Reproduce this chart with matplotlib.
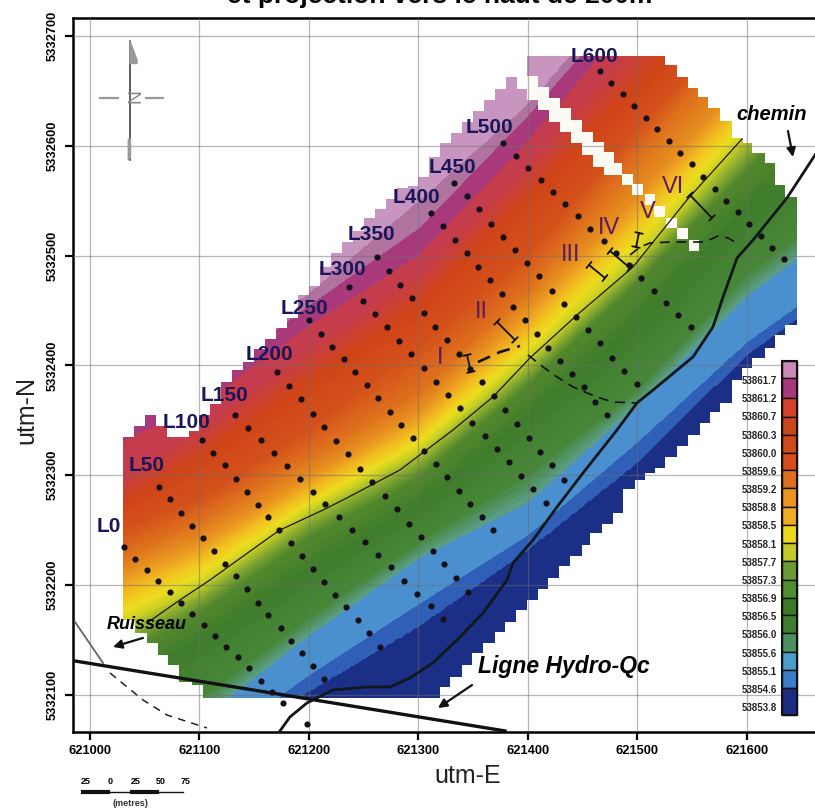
import matplotlib
matplotlib.use('Agg')
import matplotlib.pyplot as plt
from matplotlib.colors import to_rgb
from matplotlib.patches import Polygon
import numpy as np

E0 = 621000
N0 = 5332000

# isolines of the field: north offset read at each easting offset
iso_stations = [0, 30, 100, 200, 300, 400, 500, 600, 650]
iso_values = [53854.6, 53855.1, 53855.6, 53856.0, 53856.5, 53856.9, 53857.3, 53857.7, 53858.1, 53858.5,
              53858.8, 53859.2, 53859.6, 53860.0, 53860.3, 53860.7, 53861.2, 53861.7, 53862.2]
iso_north = [
    [-23.1, -0.3, 31.6, 102.6, 161.8, 231.9, 311.2, 409.5, 445.0],
    [-9.4, 13.4, 45.2, 118.1, 182.7, 245.6, 330.3, 421.3, 456.9],
    [27.0, 49.8, 77.1, 154.5, 224.6, 275.6, 364.0, 464.1, 500.6],
    [45.2, 68.0, 95.3, 170.0, 238.3, 300.2, 377.6, 482.4, 518.8],
    [81.7, 104.4, 145.4, 209.1, 268.3, 350.3, 432.3, 537.0, 578.0],
    [113.5, 136.3, 174.5, 242.8, 297.5, 382.2, 476.0, 578.0, 628.1],
    [127.2, 149.9, 186.4, 255.6, 309.3, 393.1, 486.9, 591.6, 641.7],
    [140.8, 163.6, 198.2, 267.4, 321.2, 405.0, 497.8, 609.9, 660.0],
    [151.8, 174.5, 209.1, 274.7, 329.4, 415.9, 512.4, 623.5, 676.3],
    [163.6, 186.4, 220.1, 282.0, 338.5, 427.7, 527.9, 637.2, 691.8],
    [177.3, 200.0, 230.1, 291.1, 348.5, 439.6, 541.6, 650.8, 705.5],
    [189.1, 211.9, 241.0, 300.2, 359.4, 453.2, 555.2, 664.5, 719.1],
    [204.6, 227.4, 259.2, 318.4, 377.6, 471.4, 591.6, 700.9, 755.6],
    [227.4, 250.1, 277.4, 341.2, 414.0, 500.6, 614.4, 723.7, 778.3],
    [250.1, 272.9, 313.9, 382.2, 450.5, 550.7, 650.8, 760.1, 814.8],
    [272.9, 295.7, 341.2, 414.0, 482.4, 582.5, 696.4, 805.7, 860.3],
    [313.9, 332.1, 364.0, 436.8, 500.6, 605.3, 723.7, 833.0, 887.6],
    [336.6, 354.9, 382.2, 455.0, 525.2, 628.1, 741.9, 851.2, 905.8],
    [350.3, 368.5, 395.8, 466.9, 550.7, 639.0, 755.6, 869.4, 924.0],
]

band_levels = [53853.0, 53854.6, 53855.1, 53855.6, 53856.0, 53856.5, 53856.9, 53857.3, 53857.7, 53858.1, 53858.5,
               53858.8, 53859.2, 53859.6, 53860.0, 53860.3, 53860.7, 53861.2, 53861.7, 53862.2, 53863.0]
band_colors = ['#1b2f86', '#2f5fb6', '#4a90cf', '#5a9c84', '#468636', '#3f7d2c', '#54892c', '#86a930', '#c9cf23',
               '#ecdc20', '#f1c41f', '#eea521', '#e58a1f', '#dd6c1c', '#d4501a', '#cf4318', '#c53c4c', '#a83a7c',
               '#b0739f', '#c795bf']

# stepped outline of the gridded area: easting where a step starts, and its north level
top_e = [30, 40, 50, 60, 70, 80, 90, 100, 110, 120, 130, 140, 150, 160, 170, 180, 190, 200, 210, 220, 230, 240,
         250, 260, 270, 280, 290, 300, 310, 320, 330, 340, 350, 360, 370, 380, 390, 399, 525, 536, 546, 555, 564,
         575, 586, 596, 605, 616, 626, 635, 646]
top_n = [335, 345, 355, 345, 335, 335, 340, 355, 365, 385, 396, 403, 415, 424, 434, 443, 464, 472, 490, 502, 512,
         522, 534, 542, 552, 562, 563, 572, 590, 603, 612, 622, 632, 642, 652, 663, 652, 682, 674, 663, 653, 644,
         634, 623, 607, 603, 593, 584, 564, 553, 553]
bottom_e = [30, 41, 52, 62, 71, 81, 93, 103, 320, 329, 340, 349, 359, 370, 379, 389, 399, 409, 418, 428, 438, 449,
            457, 468, 478, 487, 498, 507, 516, 525, 536, 546, 557, 566, 575, 586, 595, 605, 616, 626, 635, 646]
bottom_n = [168, 156, 147, 136, 127, 112, 109, 97, 107, 116, 127, 138, 147, 157, 166, 177, 186, 196, 206, 217, 226,
            236, 247, 256, 266, 287, 296, 302, 307, 317, 327, 337, 348, 358, 366, 387, 398, 407, 416, 428, 437, 437]

# blank cells between L500 and L600
gap_e = [399, 409, 419, 429, 439, 449, 459, 469, 479, 486.3, 495.4, 506.4, 515.5, 526.4, 536.5, 546.6]
gap_w = [10, 10, 10, 10, 10, 10, 10, 10, 7.3, 10, 10, 10, 10, 10, 10, 10]
gap_top = [663.6, 653.6, 643.6, 634.4, 623.5, 612.6, 603.5, 594.4, 584.4, 573.9, 564.8, 555.7, 544.8, 534.7, 524.7, 513.8]
gap_bottom = [641.7, 632.6, 621.7, 612.6, 602.6, 591.6, 580.7, 573.4, 573.4, 563.9, 554.8, 545.7, 534.8, 524.7, 514.7, 503.8]

# survey stations per line
stations_e = [
    [31, 41, 52, 62, 73, 83, 93, 104, 114, 124, 135, 145, 156, 166, 176, 198],
    [63, 73, 83, 93, 103, 113, 123, 133, 143, 153, 163, 174, 184, 194, 204, 214],
    [102, 112, 123, 133, 143, 153, 163, 173, 184, 194, 204, 214, 224, 234, 245, 255, 265],
    [132, 144, 156, 168, 180, 192, 204, 215, 227, 239, 251, 263, 275, 287, 299, 311, 322],
    [171, 182, 193, 204, 214, 225, 236, 247, 258, 269, 280, 291, 302, 313, 323, 334, 345],
    [200, 211, 221, 232, 242, 253, 263, 274, 284, 295, 305, 316, 326, 337, 347, 358, 368],
    [237, 249, 260, 271, 282, 293, 305, 316, 327, 338, 349, 361, 372, 383, 394, 405, 416],
    [262, 273, 283, 294, 305, 315, 326, 337, 347, 358, 369, 379, 390, 401, 411, 422, 433],
    [311, 322, 333, 344, 354, 365, 376, 386, 397, 408, 418, 429, 440, 451, 461, 472],
    [332, 344, 355, 366, 377, 388, 399, 410, 422, 433, 444, 455, 466, 477, 488, 500],
    [377, 389, 400, 412, 423, 434, 446, 457, 469, 480, 492, 503, 515, 526, 537, 549],
    [466, 476, 487, 497, 508, 518, 529, 539, 550, 560, 571, 581, 592, 602, 613, 623, 634],
]
stations_n = [
    [235, 224, 214, 204, 194, 184, 174, 164, 154, 144, 134, 124, 113, 103, 93, 73],
    [289, 278, 266, 254, 243, 231, 219, 208, 196, 184, 173, 161, 149, 138, 126, 114],
    [332, 320, 309, 297, 285, 273, 262, 250, 238, 226, 215, 203, 191, 180, 168, 156, 144],
    [355, 343, 332, 320, 308, 297, 285, 274, 262, 250, 239, 227, 216, 204, 192, 181, 169],
    [394, 381, 369, 356, 344, 331, 319, 306, 294, 281, 269, 256, 244, 231, 219, 206, 194],
    [441, 429, 417, 406, 394, 382, 370, 358, 346, 334, 322, 310, 298, 286, 274, 262, 250],
    [471, 459, 447, 435, 422, 410, 398, 385, 373, 361, 348, 336, 324, 312, 299, 287, 275],
    [499, 486, 473, 461, 448, 435, 423, 410, 397, 385, 372, 359, 347, 334, 321, 309, 296],
    [539, 527, 514, 502, 490, 478, 465, 453, 441, 429, 416, 404, 392, 380, 367, 355],
    [566, 554, 542, 529, 517, 505, 493, 481, 468, 456, 444, 432, 420, 407, 395, 383],
    [603, 591, 580, 569, 558, 547, 536, 524, 513, 502, 491, 480, 468, 457, 446, 435],
    [668, 657, 647, 636, 625, 615, 604, 593, 583, 572, 561, 550, 540, 529, 518, 507, 497],
]
line_names = ['L0', 'L50', 'L100', 'L150', 'L200', 'L250', 'L300', 'L350', 'L400', 'L450', 'L500', 'L600']
line_label_e = [17.4, 52, 87.7, 123.3, 163.5, 195.4, 230.1, 256.6, 297.7, 330.6, 364.4, 460.3]
line_label_n = [252.9, 309.3, 347.6, 372.2, 409.5, 451.4, 486.9, 518.8, 552.5, 580.7, 617.1, 680.9]

# map features
creek_e = [52, 82.2, 109.6, 164.4, 173.5, 212.8, 231, 283.1, 331.5, 368, 401.8, 444.7, 495.9, 545.2, 595.4]
creek_n = [165.4, 186.4, 204.6, 243.8, 250.1, 268.3, 277.4, 304.8, 341.2, 371.3, 406.8, 445.9, 489.6, 550.7, 606.2]
road_e = [173.5, 182.6, 198.2, 221.9, 253, 274, 292.2, 313.2, 337.9, 358.9, 380.8, 386.3, 404.6, 426.5, 450.2,
          481.3, 499.5, 514.2, 550.7, 568.9, 578.1, 590.9, 605.5, 636.5, 662.1]
road_n = [67.1, 79.8, 92.6, 104.4, 107.1, 107.1, 115.3, 129, 152.7, 174.5, 204.6, 220.1, 241, 271.1, 302,
          341.2, 365.8, 377.6, 407.7, 435, 462.3, 497.8, 514.2, 552.5, 591.6]
hydro_e = [-13.7, 379]
hydro_n = [130.8, 67.1]
stream_e = [-13.7, 11.9]
stream_n = [166.4, 129]
stream_dash_e = [18.3, 48.4, 70.3, 106.8]
stream_dash_n = [119.9, 95.3, 81.6, 69.8]
fault1_e = [354.3, 374.4, 392.7]
fault1_n = [403.1, 412.2, 417.7]
fault2_e = [400, 413.7, 426.5, 441.1, 453.9, 465.8, 477.6, 499.5]
fault2_n = [409.5, 398.6, 389.5, 380.4, 374.9, 370.3, 366.7, 365.8]
fault3_e = [493.2, 502.3, 511.4, 529.7, 545.2, 561.6, 573.5, 582.6, 593.6]
fault3_n = [500.6, 507.8, 511.5, 512.4, 512.4, 512.4, 517.9, 516.1, 509.7]

section_names = ['I', 'II', 'III', 'IV', 'V', 'VI']
section_label_e = [319.6, 357, 439.3, 474, 509.6, 532.4]
section_label_n = [406.8, 448.7, 500.6, 525.2, 539.7, 562.5]
section_e0 = [344.3, 371.7, 455.7, 474.9, 501.4, 547.9]
section_n0 = [409.5, 439.6, 491.5, 504.2, 520.6, 555.2]
section_e1 = [347.9, 388.1, 470.3, 493.2, 498.6, 568]
section_n1 = [394, 423.2, 479.6, 488.7, 507.8, 534.3]

legend_labels = ['53861.7', '53861.2', '53860.7', '53860.3', '53860.0', '53859.6', '53859.2', '53858.8', '53858.5',
                 '53858.1', '53857.7', '53857.3', '53856.9', '53856.5', '53856.0', '53855.6', '53855.1', '53854.6',
                 '53853.8']
legend_colors = ['#c98ab5', '#a8387a', '#d5402c', '#c9481a', '#cf4a18', '#d84e18', '#dc7020', '#ec9422', '#f2ac22',
                 '#ecd81c', '#c4c82a', '#6c9a34', '#4f8f30', '#3d7a28', '#3f7e30', '#4a9060', '#4c9ccc', '#3a7dc8',
                 '#1c2c80']
legend_edges = [361, 378, 398, 417, 435, 453, 470, 488, 507, 525, 543, 561, 580, 598, 615, 633, 652, 670, 688, 715]

scale_labels = ['25', '0', '25', '50', '75']
scale_label_x = [86, 110, 136, 161, 186]
scale_edges = [83, 108, 132, 157, 183]

plt.rcParams['font.family'] = ['Liberation Sans', 'DejaVu Sans']


def build_field(east, north):
    """Value at each mesh node, interpolated across strike between the isolines."""
    along = east + north
    across = north - east
    st = np.array(iso_stations, dtype=float)
    walls = np.stack([np.interp(along, st + np.array(r), np.array(r) - st) for r in iso_north])
    field = np.full(along.shape, band_levels[0] + 0.3)
    field[across >= walls[-1]] = band_levels[-1] - 0.3
    for k in range(len(iso_values) - 1):
        mask = (across >= walls[k]) & (across < walls[k + 1])
        frac = (across[mask] - walls[k][mask]) / (walls[k + 1][mask] - walls[k][mask])
        field[mask] = iso_values[k] + frac * (iso_values[k + 1] - iso_values[k])
    return field


def fine_bands():
    """Splits the middle bands so that colours grade like in the original map."""
    levels, colors = [], []
    for i, col in enumerate(band_colors):
        if 3 <= i <= 15:
            for j in range(4):
                levels.append(band_levels[i] + j / 4 * (band_levels[i + 1] - band_levels[i]))
                colors.append(tuple(np.array(to_rgb(col)) * (1 - j / 4) + np.array(to_rgb(band_colors[i + 1])) * j / 4))
        else:
            levels.append(band_levels[i])
            colors.append(col)
    levels.append(band_levels[-1])
    return levels, colors


def stairs(steps_e, steps_n):
    pts = []
    for i in range(len(steps_e) - 1):
        pts.append((steps_e[i], steps_n[i]))
        pts.append((steps_e[i + 1], steps_n[i]))
    return pts


fig = plt.figure(figsize=(8.15, 8.10), dpi=100)
ax = fig.add_axes([73 / 815, (810 - 731.6) / 810, 1 - 73 / 815, (731.6 - 18) / 810])

mesh_e, mesh_n = np.meshgrid(np.arange(20, 660, 1.5), np.arange(85, 695, 1.5))
levels, colors = fine_bands()
cs = ax.contourf(mesh_e + E0, mesh_n + N0, build_field(mesh_e, mesh_n), levels=levels, colors=colors, zorder=1)
outline = stairs(top_e, top_n) + stairs(bottom_e, bottom_n)[::-1]
clip = Polygon([(e + E0, n + N0) for e, n in outline], closed=True, transform=ax.transData, fc='none', ec='none')
ax.add_patch(clip)
cs.set_clip_path(clip)

ax.bar(np.array(gap_e) + E0, np.array(gap_top) - np.array(gap_bottom), bottom=np.array(gap_bottom) + N0,
       width=gap_w, align='edge', color='#fbfbf4', zorder=2)

for es, ns in zip(stations_e, stations_n):
    ax.scatter(np.array(es) + E0, np.array(ns) + N0, s=20, color='#15101c', zorder=4, linewidths=0)
for name, e, n in zip(line_names, line_label_e, line_label_n):
    ax.text(e + E0, n + N0, name, color='#1a1658', fontsize=15, fontweight='bold', ha='center', va='center', zorder=6)

ax.plot(np.array(creek_e) + E0, np.array(creek_n) + N0, color='#181810', lw=0.9, zorder=3)
ax.plot(np.array(road_e) + E0, np.array(road_n) + N0, color='#10181c', lw=2.0, zorder=3)
ax.plot(np.array(hydro_e) + E0, np.array(hydro_n) + N0, color='#111111', lw=2.4, zorder=3)
ax.plot(np.array(stream_e) + E0, np.array(stream_n) + N0, color='#666666', lw=1.3, zorder=3)
ax.plot(np.array(stream_dash_e) + E0, np.array(stream_dash_n) + N0, color='#222222', lw=1.1, ls=(0, (5, 4)), zorder=3)
ax.plot(np.array(fault1_e) + E0, np.array(fault1_n) + N0, color='#111111', lw=1.9, ls=(0, (5, 3)), zorder=3)
ax.plot(np.array(fault2_e) + E0, np.array(fault2_n) + N0, color='#111111', lw=1.2, ls=(0, (6, 4)), zorder=3)
ax.plot(np.array(fault3_e) + E0, np.array(fault3_n) + N0, color='#111111', lw=1.2, ls=(0, (6, 4)), zorder=3)

for name, e, n in zip(section_names, section_label_e, section_label_n):
    ax.text(e + E0, n + N0, name, color='#5e1b5c', fontsize=17, ha='center', va='center', zorder=6)
for e0, n0, e1, n1 in zip(section_e0, section_n0, section_e1, section_n1):
    ax.annotate('', xy=(e1 + E0, n1 + N0), xytext=(e0 + E0, n0 + N0), zorder=5,
                arrowprops=dict(arrowstyle='|-|,widthA=0.28,widthB=0.28', color='#111111', lw=1.3,
                                shrinkA=0, shrinkB=0))

ax.text(622.5 + E0, 628.1 + N0, 'chemin', fontsize=14.5, fontweight='bold', style='italic', ha='center', va='center', zorder=6)
ax.text(52 + E0, 163.6 + N0, 'Ruisseau', fontsize=13, fontweight='bold', style='italic', ha='center', va='center', zorder=6)
ax.text(432.9 + E0, 125.4 + N0, 'Ligne Hydro-Qc', fontsize=16.5, fontweight='bold', style='italic', ha='center', va='center', zorder=6)
for xy, xytext in [((21, 143.6), (48.4, 151.8)), ((317.8, 88), (348.9, 108.9)), ((642, 589.8), (637.4, 613.5))]:
    ax.annotate('', xy=(xy[0] + E0, xy[1] + N0), xytext=(xytext[0] + E0, xytext[1] + N0), zorder=5,
                arrowprops=dict(arrowstyle='-|>', color='#111111', lw=1.6, mutation_scale=13, shrinkA=0, shrinkB=0))

# north arrow
ax.plot([36.5 + E0, 36.5 + E0], [587 + N0, 695.5 + N0], color='#333333', lw=1.1, zorder=3)
ax.plot([9.1 + E0, 25.6 + E0], [643.6 + N0, 643.6 + N0], color='#9a9a9a', lw=1.6, zorder=3)
ax.plot([51.1 + E0, 66.7 + E0], [643.6 + N0, 643.6 + N0], color='#9a9a9a', lw=1.6, zorder=3)
ax.fill([36.5 + E0, 43 + E0, 43 + E0, 36.5 + E0], [695.5 + N0, 678 + N0, 675 + N0, 675 + N0], color='#999999', zorder=3)
ax.fill([35 + E0, 37 + E0, 37 + E0, 35 + E0], [587 + N0, 590 + N0, 606 + N0, 606 + N0], color='#999999', zorder=3)
ax.text(36.5 + E0, 643.6 + N0, 'N', color='#888888', fontsize=14, rotation=270, ha='center', va='center', zorder=4)

ax.set_xlim(E0 - 15.5, E0 + 662.1)
ax.set_ylim(N0 + 66.5, N0 + 716.4)
ax.set_xticks(np.arange(E0, E0 + 601, 100))
ax.set_xticklabels([str(v) for v in np.arange(E0, E0 + 601, 100)], fontsize=9.3, fontweight='bold')
ax.set_yticks(np.arange(N0 + 100, N0 + 701, 100))
ax.set_yticklabels([str(v) for v in np.arange(N0 + 100, N0 + 701, 100)], fontsize=9.3, fontweight='bold',
                   rotation=90, va='center')
ax.tick_params(width=1.6, length=6, pad=4)
ax.set_axisbelow(False)
ax.grid(True, color='#6e6e6e', lw=0.9, alpha=0.5)
for side in ax.spines.values():
    side.set_linewidth(1.8)
ax.spines['right'].set_visible(False)

# figure-wide layer in pixels for title, axis names, scale bar and colour key
over = fig.add_axes([0, 0, 1, 1], facecolor='none')
over.set_xlim(0, 815)
over.set_ylim(810, 0)
over.axis('off')
over.text(440, 3, 'et projection vers le haut de 200m', fontsize=19, fontweight='bold', ha='center', va='baseline', clip_on=False)
over.text(468, 776, 'utm-E', fontsize=18, color='#222222', ha='center', va='center')
over.text(26, 410, 'utm-N', fontsize=18, color='#222222', rotation=90, ha='center', va='center')

for i in range(len(legend_colors)):
    over.fill_between([782, 797], legend_edges[i], legend_edges[i + 1], facecolor=legend_colors[i],
                      edgecolor='#111111', lw=1.0)
    over.text(777, 381 + 18.17 * i, legend_labels[i], fontsize=7, fontweight='bold', color='#222222', ha='right', va='center')
over.plot([782, 797, 797, 782, 782], [361, 361, 715, 715, 361], color='#111111', lw=1.5)

for lab, x in zip(scale_labels, scale_label_x):
    over.text(x, 781, lab, fontsize=6.5, fontweight='bold', ha='center', va='center')
for i in range(len(scale_edges) - 1):
    over.plot(scale_edges[i:i + 2], [791.5, 791.5], color='#111111', lw=3 if i % 2 == 0 else 1)
over.text(130, 804, '(metres)', fontsize=6.5, fontweight='bold', color='#333333', ha='center', va='center')

fig.savefig('out.png', dpi=100)
